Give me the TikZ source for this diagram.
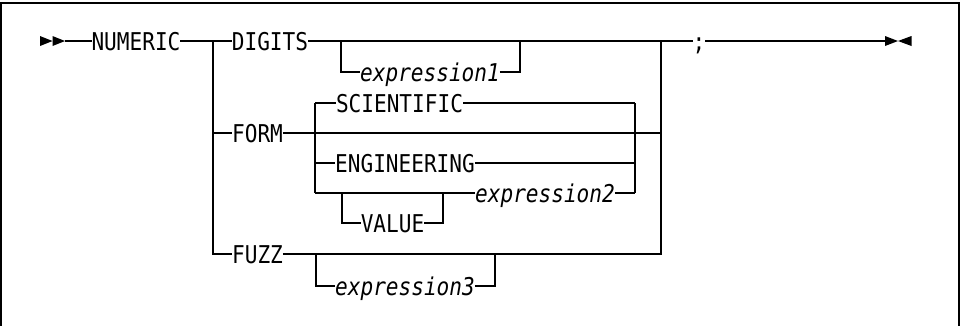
\documentclass[tikz,border=0pt]{standalone}
\usepackage{fontspec}
\newfontfamily\rrfont[FakeStretch=0.861]{DejaVu Sans Mono}
\begin{document}
\begin{tikzpicture}[x=1pt,y=-1pt,
  rr/.style={line width=1.1pt},
  lbl/.style={inner sep=0pt,outer sep=0pt,text height=18.8pt,text depth=0pt,font=\rrfont\fontsize{24.5}{24.5}\selectfont},
  ilbl/.style={lbl,font=\rrfont\itshape\fontsize{24.5}{24.5}\selectfont},
  frame/.style={line width=2pt}]
\useasboundingbox (0,0) rectangle (961,325);
\draw[frame] (1,326) -- (1,2.8) -- (959.3,2.8) -- (959.3,326);

% labels
\node[lbl] (numeric) at (136,41) {NUMERIC};
\node[lbl] (digits) at (270,41) {DIGITS};
\node[ilbl] (exprA) at (430,72) {expression1};
\node[lbl] (form) at (257.5,133) {FORM};
\node[lbl] (sci) at (399.5,103) {SCIENTIFIC};
\node[lbl] (eng) at (405,163) {ENGINEERING};
\node[ilbl] (exprB) at (545,193) {expression2};
\node[lbl] (value) at (392.5,223) {VALUE};
\node[lbl] (fuzz) at (257.5,254) {FUZZ};
\node[ilbl] (exprC) at (405,286) {expression3};
\node[lbl] (semi) at (699,41) {;};

% coordinates
\coordinate (s0) at (65,41);
\coordinate (j1) at (213,41);
\coordinate (j1f) at (213,133);
\coordinate (j1z) at (213,254);
\coordinate (j2) at (661,41);
\coordinate (j2f) at (661,133);
\coordinate (j2z) at (661,254);
\coordinate (e0) at (885,41);
\coordinate (e1a) at (341,41);
\coordinate (e1b) at (341,72);
\coordinate (e1c) at (520,72);
\coordinate (e1d) at (520,41);
\coordinate (fb1) at (315,103);
\coordinate (fb2) at (635,103);
\coordinate (fb3) at (315,193);
\coordinate (fb4) at (635,193);
\coordinate (fbe1) at (315,163);
\coordinate (fbe2) at (635,163);
\coordinate (v1) at (342,193);
\coordinate (v2) at (342,223);
\coordinate (v3) at (443,223);
\coordinate (v4) at (443,193);
\coordinate (x1) at (316,254);
\coordinate (x2) at (316,286);
\coordinate (x3) at (495,286);
\coordinate (x4) at (495,254);

% arrows
\fill (40,36) -- (52.5,41) -- (40,46) -- cycle;
\fill (52.5,36) -- (65,41) -- (52.5,46) -- cycle;
\fill (885,36) -- (898,41) -- (885,46) -- cycle;
\fill (911.5,36) -- (898,41) -- (911.5,46) -- cycle;

% main line
\draw[rr] (s0) -- (numeric.west);
\draw[rr] (numeric.east) -- (j1) -- (digits.west);
\draw[rr] (digits.east) -- (j2) -- (semi.west);
\draw[rr] (semi.east) -- (e0);
\draw[rr] (e1a) -- (e1b) -- (exprA.west);
\draw[rr] (exprA.east) -- (e1c) -- (e1d);

% left and right rails
\draw[rr] (j1) -- (j1z) -- (fuzz.west);
\draw[rr] (fuzz.east) -- (j2z) -- (j2);
\draw[rr] (j1f) -- (form.west);
\draw[rr] (form.east) -- (j2f);

% FORM box
\draw[rr] (fb1) -- (fb3);
\draw[rr] (fb2) -- (fb4);
\draw[rr] (fb1) -- (sci.west);
\draw[rr] (sci.east) -- (fb2);
\draw[rr] (fbe1) -- (eng.west);
\draw[rr] (eng.east) -- (fbe2);
\draw[rr] (fb3) -- (exprB.west);
\draw[rr] (exprB.east) -- (fb4);
\draw[rr] (v1) -- (v2) -- (value.west);
\draw[rr] (value.east) -- (v3) -- (v4);

% FUZZ loop
\draw[rr] (x1) -- (x2) -- (exprC.west);
\draw[rr] (exprC.east) -- (x3) -- (x4);
\end{tikzpicture}
\end{document}
